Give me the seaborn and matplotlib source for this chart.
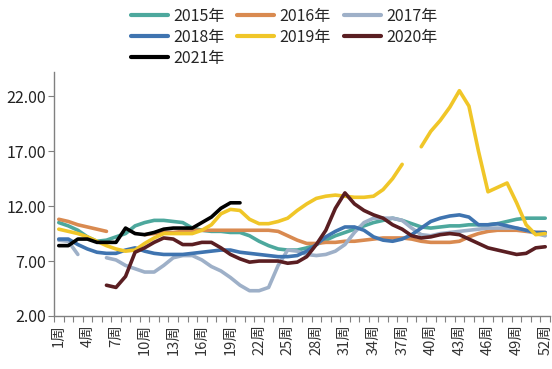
import numpy as np
import pandas as pd
import matplotlib
matplotlib.use("Agg")
import matplotlib.pyplot as plt
import seaborn as sns

nan = np.nan
weeks = list(range(1, 53))

s2015 = [10.5, 10.2, 9.8, 9.2, 8.8, 8.9, 9.2, 9.5, 10.2, 10.5, 10.7, 10.7, 10.6, 10.5, 10.0, 9.8, 9.7, 9.7, 9.6, 9.6,
         9.3, 8.8, 8.4, 8.1, 8.0, 8.0, 8.2, 8.5, 8.9, 9.3, 9.6, 9.9, 10.2, 10.5, 10.7, 10.9, 10.7, 10.4, 10.1, 10.0,
         10.1, 10.2, 10.2, 10.3, 10.3, 10.3, 10.4, 10.6, 10.8, 10.9, 10.9, 10.9]
s2016 = [10.8, 10.6, 10.3, 10.1, 9.9, 9.7, nan, nan, nan, 9.4, 9.5, 9.6, 9.6, 9.7, 9.8, 9.8, 9.8, 9.8, 9.8, 9.8,
         9.8, 9.8, 9.8, 9.7, 9.3, 8.9, 8.6, 8.6, 8.7, 8.7, 8.8, 8.8, 8.9, 9.0, 9.1, 9.1, 9.1, 9.0, 8.8, 8.7,
         8.7, 8.7, 8.8, 9.2, 9.5, 9.7, 9.8, 9.8, 9.8, 9.7, 9.6, 9.6]
s2017 = [8.9, 8.8, 7.6, nan, nan, 7.3, 7.1, 6.6, 6.3, 6.0, 6.0, 6.6, 7.3, 7.5, 7.5, 7.1, 6.5, 6.1, 5.5, 4.8,
         4.3, 4.3, 4.6, 6.6, 8.0, 7.9, 7.6, 7.5, 7.6, 7.9, 8.5, 9.6, 10.5, 10.9, 10.9, 10.9, 10.7, 10.0, 9.4, 9.3,
         9.5, 9.6, 9.7, 9.8, 9.9, 10.0, 10.0, 10.0, 10.0, 9.8, 9.5, 9.3]
s2018 = [9.0, 9.0, 8.5, 8.1, 7.8, 7.7, 7.7, 8.0, 8.2, 7.9, 7.7, 7.6, 7.6, 7.6, 7.7, 7.8, 7.9, 8.0, 8.0, 7.8,
         7.7, 7.6, 7.5, 7.4, 7.4, 7.5, 7.9, 8.5, 9.2, 9.7, 10.1, 10.1, 9.8, 9.2, 8.9, 8.8, 9.0, 9.4, 10.0, 10.6,
         10.9, 11.1, 11.2, 11.0, 10.3, 10.3, 10.4, 10.2, 10.0, 9.8, 9.6, 9.6]
s2019 = [9.9, 9.7, 9.5, 9.2, 8.8, 8.4, 8.1, 7.9, 8.0, 8.6, 9.1, 9.5, 9.5, 9.5, 9.5, 9.8, 10.3, 11.3, 11.7, 11.6,
         10.8, 10.4, 10.4, 10.6, 10.9, 11.6, 12.2, 12.7, 12.9, 13.0, 12.9, 12.8, 12.8, 12.9, 13.5, 14.5, 15.8, nan, 17.4, 18.8,
         19.8, 21.0, 22.5, 21.1, 17.0, 13.3, 13.7, 14.1, 12.3, 10.3, 9.4, 9.5]
s2020 = [nan, nan, nan, nan, nan, 4.8, 4.6, 5.6, 7.8, 8.2, 8.7, 9.1, 9.0, 8.5, 8.5, 8.7, 8.7, 8.2, 7.6, 7.2,
         6.9, 7.0, 7.0, 7.0, 6.8, 6.9, 7.4, 8.5, 9.8, 11.8, 13.2, 12.2, 11.6, 11.2, 10.9, 10.3, 9.9, 9.3, 9.1, 9.2,
         9.4, 9.5, 9.4, 9.0, 8.6, 8.2, 8.0, 7.8, 7.6, 7.7, 8.2, 8.3]
s2021 = [8.4, 8.4, 9.0, 9.0, 8.7, 8.7, 8.7, 10.0, 9.5, 9.4, 9.6, 9.9, 10.0, 10.0, 10.0, 10.5, 11.0, 11.8, 12.3, 12.3]

series_names = ["2015年", "2016年", "2017年", "2018年", "2019年", "2020年", "2021年"]
series_vals = [s2015, s2016, s2017, s2018, s2019, s2020, s2021]
colors = ["#4DA89D", "#D98A50", "#9EB0C8", "#3F74B0", "#F0C628", "#5A1E22", "#000000"]
tick_weeks = list(range(1, 53, 3))
tick_labels = [f"{w}周" for w in tick_weeks]

rows = []
for name, vals in zip(series_names, series_vals):
    seg = 0
    prev_nan = True
    for w, v in zip(weeks, vals):
        if v is None or (isinstance(v, float) and np.isnan(v)):
            prev_nan = True
            continue
        if prev_nan:
            seg += 1
            prev_nan = False
        rows.append({"week": w, "value": v, "year": name, "seg": f"{name}_{seg}"})
df = pd.DataFrame(rows)

sns.set_style("white")
plt.rcParams["font.family"] = ["Noto Sans CJK SC", "DejaVu Sans"]

fig = plt.figure(figsize=(5.52, 3.69), dpi=100)
ax = fig.add_axes([54 / 552, 53 / 369, 496 / 552, 244 / 369])

sns.lineplot(data=df, x="week", y="value", hue="year", units="seg", estimator=None,
             palette=dict(zip(series_names, colors)), hue_order=series_names,
             linewidth=2.6, ax=ax, legend=True, sort=True)

ax.set_xlim(0.5, 52.5)
ax.set_ylim(2, 24.2)
ax.set_yticks([2, 7, 12, 17, 22])
ax.set_yticklabels([f"{v:.2f}" for v in [2, 7, 12, 17, 22]], fontsize=11.5, color="#222222")
ax.set_xticks(tick_weeks)
ax.set_xticklabels(tick_labels, rotation=90, fontsize=10.5, color="#333333")
ax.set_xticks(np.arange(0.5, 53, 1), minor=True)
ax.tick_params(axis="x", which="major", length=0, pad=6)
ax.tick_params(axis="x", which="minor", length=4, direction="out", color="#808080", width=0.8, bottom=True)
ax.tick_params(axis="y", length=4, direction="out", color="#808080", width=0.8, left=True, pad=2)
ax.set_xlabel("")
ax.set_ylabel("")
for side in ["top", "right"]:
    ax.spines[side].set_visible(False)
for side in ["left", "bottom"]:
    ax.spines[side].set_color("#808080")
    ax.spines[side].set_linewidth(1.0)

handles, labels = ax.get_legend_handles_labels()
hmap = dict(zip(labels, handles))
order = ["2015年", "2018年", "2021年", "2016年", "2019年", "2017年", "2020年"]
ax.legend([hmap[o] for o in order], order, ncol=3, frameon=False,
          loc="upper left", bbox_to_anchor=(123 / 552, 1.0), bbox_transform=fig.transFigure,
          fontsize=11.5, handlelength=2.3, columnspacing=0.8, labelspacing=0.25,
          handletextpad=0.35, borderaxespad=0.1)
for line in ax.get_legend().get_lines():
    line.set_linewidth(3.0)

fig.savefig("out.png", dpi=100, facecolor="white")
